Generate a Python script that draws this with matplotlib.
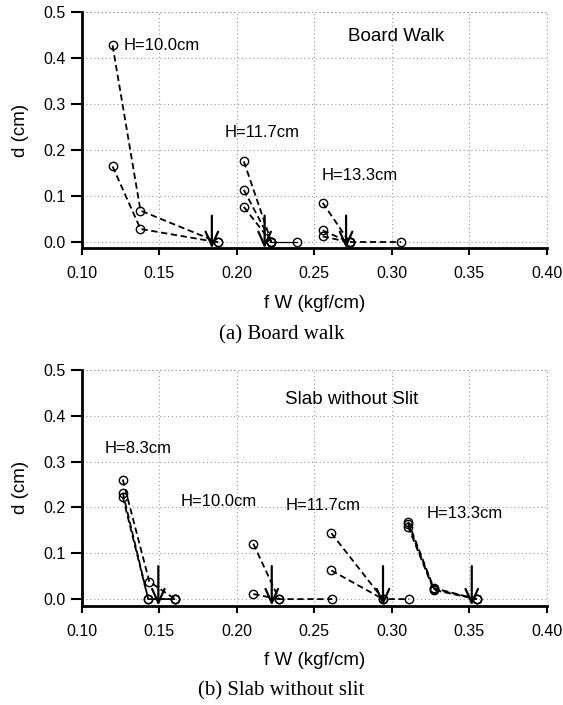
import numpy as np
import matplotlib.pyplot as plt

# ---- dane: (a) Board walk ----
bw_h100_x = [0.120, 0.138, 0.188]
bw_h100_ya = [0.428, 0.069, 0.0]
bw_h100_yb = [0.165, 0.029, 0.0]
bw_h117_x = [0.2046, 0.2224]
bw_h117_y1 = [0.176, 0.0]
bw_h117_y2 = [0.114, 0.0]
bw_h117_y3 = [0.077, 0.0]
bw_h117_tail_x = [0.2224, 0.2388]
bw_h133_x = [0.2554, 0.2728]
bw_h133_y1 = [0.086, 0.0]
bw_h133_y2 = [0.026, 0.0]
bw_h133_y3 = [0.013, 0.0]
bw_h133_tail_x = [0.2728, 0.306]
bw_arrows = [0.184, 0.218, 0.2705]

# ---- dane: (b) Slab without slit ----
sl_h83_xa = [0.1266, 0.1437, 0.1603]
sl_h83_ya = [0.261, 0.038, 0.0]
sl_h83_xb = [0.1266, 0.1430, 0.1603]
sl_h83_yb = [0.232, 0.0, 0.0]
sl_h83_yc = [0.223, 0.0, 0.0]
sl_h100_x = [0.2107, 0.2273, 0.2616]
sl_h100_ya = [0.121, 0.0, 0.0]
sl_h100_xb = [0.2107, 0.2273]
sl_h100_yb = [0.011, 0.0]
sl_h117_x = [0.261, 0.2943, 0.311]
sl_h117_ya = [0.144, 0.0, 0.0]
sl_h117_xb = [0.261, 0.2943]
sl_h117_yb = [0.0625, 0.0]
sl_h133_x = [0.3105, 0.327, 0.3549]
sl_h133_ya = [0.169, 0.024, 0.0]
sl_h133_yb = [0.163, 0.022, 0.0]
sl_h133_yc = [0.158, 0.020, 0.0]
sl_arrows = [0.1495, 0.2226, 0.2943, 0.3515]

xticks = [0.10, 0.15, 0.20, 0.25, 0.30, 0.35, 0.40]
yticks = [0.0, 0.1, 0.2, 0.3, 0.4, 0.5]

plt.rcParams['font.family'] = ['Liberation Sans', 'DejaVu Sans']

fig = plt.figure(figsize=(5.63, 7.05), dpi=100)
ax1 = fig.add_axes([0.1448, 0.6478, 0.8268, 0.3348])
ax2 = fig.add_axes([0.1448, 0.1411, 0.8268, 0.3341])

dash = dict(color='k', ls=(0, (3.5, 2)), lw=1.3, marker='o', ms=6,
            mfc='none', mec='k', mew=1.0)


def setup(ax, ybot):
    ax.set_xlim(0.10, 0.40)
    ax.set_ylim(ybot, 0.5)
    ax.set_xticks(xticks)
    ax.set_yticks(yticks)
    ax.set_xticklabels(['%.2f' % v for v in xticks])
    ax.set_yticklabels(['%.1f' % v for v in yticks])
    ax.grid(True, color='#999999', ls=(0, (1, 2.5)), lw=0.8)
    ax.axhline(0.5, color='#999999', ls=(0, (1, 2.5)), lw=0.8, clip_on=False)
    ax.axvline(0.40, color='#999999', ls=(0, (1, 2.5)), lw=0.8, clip_on=False)
    for s in ['top', 'right']:
        ax.spines[s].set_visible(False)
    for s in ['left', 'bottom']:
        ax.spines[s].set_linewidth(2.0)
    ax.tick_params(axis='y', direction='out', length=8, width=1.5, labelsize=11.5)
    ax.tick_params(axis='x', direction='out', length=5, width=1.5, labelsize=11.5, pad=8)
    ax.set_xlabel('f W (kgf/cm)', fontsize=13.5, labelpad=10)
    ax.set_ylabel('d (cm)', fontsize=13.5, labelpad=10)


def arrows(ax, xs, ytop, ybot):
    for x in xs:
        ax.annotate('', xy=(x, ybot), xytext=(x, ytop),
                    arrowprops=dict(arrowstyle='->,head_length=1.0,head_width=0.45',
                                    lw=1.6, color='k', shrinkA=0, shrinkB=0),
                    annotation_clip=False)


# (a)
setup(ax1, -0.013)
ax1.plot(bw_h100_x, bw_h100_ya, **dash)
ax1.plot(bw_h100_x, bw_h100_yb, **dash)
ax1.plot(bw_h117_x, bw_h117_y1, **dash)
ax1.plot(bw_h117_x, bw_h117_y2, **dash)
ax1.plot(bw_h117_x, bw_h117_y3, **dash)
ax1.plot(bw_h117_tail_x, [0.0, 0.0], color='k', lw=0.9, marker='o', ms=6,
         mfc='none', mec='k', mew=1.0)
ax1.plot(bw_h133_x, bw_h133_y1, **dash)
ax1.plot(bw_h133_x, bw_h133_y2, **dash)
ax1.plot(bw_h133_x, bw_h133_y3, **dash)
ax1.plot(bw_h133_tail_x, [0.0, 0.0], **dash)
arrows(ax1, bw_arrows, 0.058, -0.013)
ax1.text(0.127, 0.428, 'H=10.0cm', fontsize=12, va='center')
ax1.text(0.1925, 0.239, 'H=11.7cm', fontsize=12, va='center')
ax1.text(0.2548, 0.146, 'H=13.3cm', fontsize=12, va='center')
ax1.text(0.2716, 0.447, 'Board Walk', fontsize=13.5, va='center')

# (b)
setup(ax2, -0.014)
ax2.plot(sl_h83_xa, sl_h83_ya, **dash)
ax2.plot(sl_h83_xb, sl_h83_yb, **dash)
ax2.plot(sl_h83_xb, sl_h83_yc, **dash)
ax2.plot(sl_h100_x, sl_h100_ya, **dash)
ax2.plot(sl_h100_xb, sl_h100_yb, **dash)
ax2.plot(sl_h117_x, sl_h117_ya, **dash)
ax2.plot(sl_h117_xb, sl_h117_yb, **dash)
ax2.plot(sl_h133_x, sl_h133_ya, **dash)
ax2.plot(sl_h133_x, sl_h133_yb, **dash)
ax2.plot(sl_h133_x, sl_h133_yc, **dash)
arrows(ax2, sl_arrows, 0.072, -0.014)
ax2.text(0.115, 0.329, 'H=8.3cm', fontsize=12, va='center')
ax2.text(0.164, 0.213, 'H=10.0cm', fontsize=12, va='center')
ax2.text(0.2316, 0.204, 'H=11.7cm', fontsize=12, va='center')
ax2.text(0.3225, 0.1875, 'H=13.3cm', fontsize=12, va='center')
ax2.text(0.2312, 0.435, 'Slab without Slit', fontsize=13.5, va='center')

fig.text(0.5, 1 - 335 / 705, '(a) Board walk', family='Liberation Serif',
         fontsize=15, ha='center', va='center')
fig.text(0.5, 1 - 691 / 705, '(b) Slab without slit', family='Liberation Serif',
         fontsize=15, ha='center', va='center')

plt.savefig('out.png', dpi=100)
